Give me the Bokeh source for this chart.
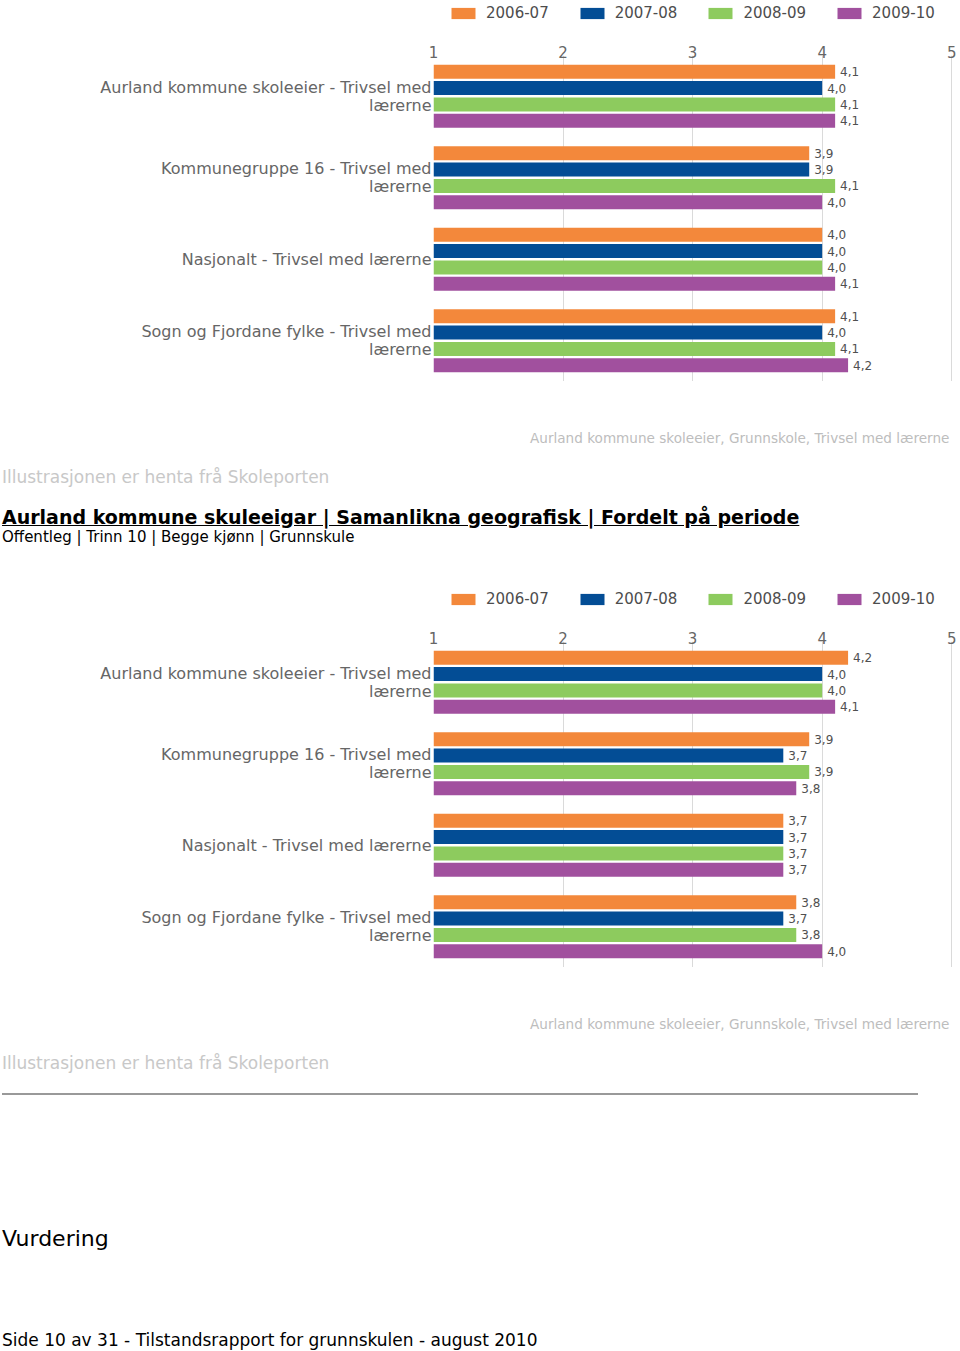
from bokeh.plotting import figure
from bokeh.models import (Range1d, FactorRange, Legend, LegendItem, ColumnDataSource,
                          FixedTicker, Div)
from bokeh.transform import dodge
from bokeh.layouts import column
from bokeh.core.properties import value
from bokeh.embed import file_html
from bokeh.resources import INLINE

# ---------------- data ----------------
periods = ["2006-07", "2007-08", "2008-09", "2009-10"]
period_colors = ["#F3883B", "#034D95", "#8DCB5E", "#A1509E"]
categories = [
    "Aurland kommune skoleeier - Trivsel med\nlærerne",
    "Kommunegruppe 16 - Trivsel med\nlærerne",
    "Nasjonalt - Trivsel med lærerne",
    "Sogn og Fjordane fylke - Trivsel med\nlærerne",
]
x_ticks = [1, 2, 3, 4, 5]

# chart 1 (upper)
c1_2006_07 = [4.1, 3.9, 4.0, 4.1]
c1_2007_08 = [4.0, 3.9, 4.0, 4.0]
c1_2008_09 = [4.1, 4.1, 4.0, 4.1]
c1_2009_10 = [4.1, 4.0, 4.1, 4.2]

# chart 2 (lower)
c2_2006_07 = [4.2, 3.9, 3.7, 3.8]
c2_2007_08 = [4.0, 3.7, 3.7, 3.7]
c2_2008_09 = [4.0, 3.9, 3.7, 3.8]
c2_2009_10 = [4.1, 3.8, 3.7, 4.0]

source_text = "Aurland kommune skoleeier, Grunnskole, Trivsel med lærerne"
illus_text = "Illustrasjonen er henta frå Skoleporten"
title_text = "Aurland kommune skuleeigar | Samanlikna geografisk | Fordelt på periode"
subtitle_text = "Offentleg | Trinn 10 | Begge kjønn | Grunnskule"
vurdering_text = "Vurdering"
footer_text = "Side 10 av 31 - Tilstandsrapport for grunnskulen - august 2010"

W = 960
FONT = "DejaVu Sans"
OFFSETS = [0.3, 0.1, -0.1, -0.3]


def legend_fig(vals):
    # legend strip above a chart: the series are bound (hidden) so the legend can show their swatches
    p = figure(width=W, height=30, x_range=Range1d(1, 5.006), y_range=FactorRange(factors=list(reversed(categories))),
               toolbar_location=None, output_backend="svg",
               min_border_left=433, min_border_right=8, min_border_top=0, min_border_bottom=0)
    p.axis.visible = False
    p.grid.visible = False
    p.outline_line_color = None
    items = []
    for per, series, off, col in zip(periods, vals, OFFSETS, period_colors):
        src = ColumnDataSource(dict(cat=categories, val=series))
        r = p.hbar(y=dodge("cat", off, range=p.y_range), left=1, right="val", height=0.172,
                   source=src, fill_color=col, line_color=None, visible=False)
        items.append(LegendItem(label=per, renderers=[r]))
    leg = Legend(items=items, orientation="horizontal", location=(15, 8),
                 border_line_color=None, background_fill_alpha=0,
                 inactive_fill_alpha=0,
                 glyph_width=30, glyph_height=14, label_standoff=8, spacing=28,
                 padding=0, margin=0,
                 label_text_font=FONT, label_text_font_size="15px",
                 label_text_color="#4d4d4d")
    p.add_layout(leg, "center")
    return p


def chart_fig(vals):
    factors = list(reversed(categories))
    p = figure(width=W, height=351, x_range=Range1d(1, 5.006), y_range=FactorRange(factors=factors),
               x_axis_location="above", toolbar_location=None, output_backend="svg",
               min_border_left=433, min_border_right=8, min_border_top=25, min_border_bottom=0)
    p.outline_line_color = None
    p.ygrid.grid_line_color = None
    p.xgrid.ticker = FixedTicker(ticks=x_ticks)
    p.xgrid.grid_line_color = "#dadada"
    p.xaxis.ticker = FixedTicker(ticks=x_ticks)
    p.xaxis.axis_line_color = None
    p.xaxis.major_tick_line_color = None
    p.xaxis.major_tick_out = 0
    p.xaxis.major_tick_in = 0
    p.xaxis.minor_tick_line_color = None
    p.xaxis.major_label_standoff = -2
    p.xaxis.major_label_text_font = FONT
    p.xaxis.major_label_text_font_size = "15px"
    p.xaxis.major_label_text_color = "#666666"
    p.yaxis.axis_line_color = None
    p.yaxis.major_tick_line_color = None
    p.yaxis.major_tick_out = 0
    p.yaxis.major_tick_in = 0
    p.yaxis.major_label_standoff = 2
    p.yaxis.major_label_text_font = FONT
    p.yaxis.major_label_text_font_size = "16px"
    p.yaxis.major_label_text_line_height = 0.95
    p.yaxis.major_label_text_color = "#666666"

    for series, off, col in zip(vals, OFFSETS, period_colors):
        src = ColumnDataSource(dict(cat=categories, val=series,
                                    lab=[("%.1f" % v).replace(".", ",") for v in series]))
        yd = dodge("cat", off, range=p.y_range)
        p.hbar(y=yd, left=1, right="val", height=0.172, source=src,
               fill_color=col, line_color=None)
        p.text(x="val", y=yd, text="lab", source=src, x_offset=5,
               text_font=value(FONT), text_font_size="12px",
               text_color="#505050", text_baseline="middle", text_align="left")
    return p


def text_block(height, items, rule=None):
    parts = []
    for left, top, txt, size, color, extra in items:
        parts.append(
            '<div style="position:absolute;left:%dpx;top:%dpx;font-family:\'DejaVu Sans\';'
            'font-size:%spx;line-height:1;color:%s;white-space:nowrap;%s">%s</div>'
            % (left, top, size, color, extra, txt))
    if rule is not None:
        parts.append('<div style="position:absolute;left:2px;top:%dpx;width:916px;height:2px;'
                     'background:#999999;"></div>' % rule)
    html = ('<div style="position:relative;width:%dpx;height:%dpx;overflow:hidden;margin:0;padding:0;">%s</div>'
            % (W, height, "".join(parts)))
    return Div(text=html, width=W, height=height, margin=0)


vals1 = [c1_2006_07, c1_2007_08, c1_2008_09, c1_2009_10]
vals2 = [c2_2006_07, c2_2007_08, c2_2008_09, c2_2009_10]

legA = legend_fig(vals1)
chartA = chart_fig(vals1)
divB = text_block(205, [
    (530, 51, source_text, 13.6, "#bdbdbd", ""),
    (2, 88, illus_text, 17, "#c8c8c8", ""),
    (2, 127, title_text, 19, "#000000", "font-weight:bold;text-decoration:underline;"),
    (2, 149, subtitle_text, 15, "#000000", ""),
])
legB = legend_fig(vals2)
chartB = chart_fig(vals2)
divD = text_block(383, [
    (530, 51, source_text, 13.6, "#bdbdbd", ""),
    (2, 88, illus_text, 17, "#c8c8c8", ""),
    (2, 261, vurdering_text, 22, "#000000", ""),
    (2, 365, footer_text, 17, "#000000", ""),
], rule=126)

layout = column(legA, chartA, divB, legB, chartB, divD, spacing=0)
open("out.html", "w").write(file_html(layout, INLINE))
